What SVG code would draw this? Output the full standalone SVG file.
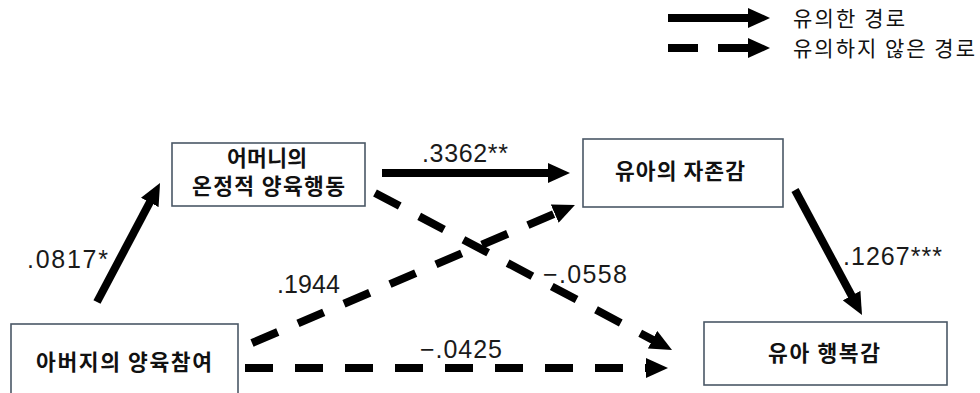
<svg xmlns="http://www.w3.org/2000/svg" width="980" height="393" viewBox="0 0 980 393">
<defs>
<marker id="ah" viewBox="0 0 22 20" refX="4" refY="10" markerWidth="22" markerHeight="20" markerUnits="userSpaceOnUse" orient="auto">
<path d="M0,0 L22,10 L0,20 z" fill="#000"/>
</marker>
<style>
.box{fill:#fff;stroke:#4a5866;stroke-width:1.6}
.nt{font-family:"Noto Sans CJK KR","Noto Sans CJK SC",sans-serif;font-size:21.5px;font-weight:bold;fill:#111}
.lg{font-family:"Noto Sans CJK KR","Noto Sans CJK SC",sans-serif;font-size:21px;fill:#111}
.lb{font-family:"Liberation Sans",Arial,sans-serif;font-size:25px;fill:#1a1a1a}
.sol{stroke:#000;stroke-width:8;fill:none;marker-end:url(#ah)}
.dsh{stroke:#000;stroke-width:8;fill:none;stroke-dasharray:28 22;marker-end:url(#ah)}
</style>
</defs>
<rect width="980" height="393" fill="#fff"/>
<g id="legend">
<line x1="668" y1="18" x2="752" y2="18" class="sol"/>
<line x1="668" y1="48" x2="752" y2="48" class="sol" style="stroke-dasharray:30 20 40"/>
<text x="793" y="26" class="lg" textLength="112" lengthAdjust="spacing">유의한 경로</text>
<text x="793" y="56" class="lg" textLength="182" lengthAdjust="spacing">유의하지 않은 경로</text>
</g>
<g id="connectors">
<line x1="97" y1="302" x2="151.6" y2="198.9" class="sol"/>
<line x1="382" y1="173" x2="552" y2="173" class="sol"/>
<line x1="795" y1="190" x2="853.5" y2="299.1" class="sol"/>
<line x1="375" y1="193" x2="656.1" y2="341.6" class="dsh"/>
<line x1="252" y1="343" x2="558.4" y2="212.1" class="dsh"/>
<line x1="245" y1="368" x2="650" y2="368" class="dsh"/>
<text x="27" y="268" class="lb" textLength="81" lengthAdjust="spacing">.0817*</text>
<text x="422" y="162" class="lb" textLength="86" lengthAdjust="spacing">.3362**</text>
<text x="843" y="265" class="lb" textLength="99" lengthAdjust="spacing">.1267***</text>
<text x="277" y="293" class="lb" textLength="63" lengthAdjust="spacing">.1944</text>
<text x="543" y="283" class="lb" textLength="84" lengthAdjust="spacing">−.0558</text>
<text x="420" y="358" class="lb" textLength="82" lengthAdjust="spacing">−.0425</text>
</g>
<g id="node-mother">
<rect x="172" y="143" width="193" height="63" class="box"/>
<text x="227" y="166" class="nt" textLength="80" lengthAdjust="spacing">어머니의</text>
<text x="192" y="194" class="nt" textLength="153" lengthAdjust="spacing">온정적 양육행동</text>
</g>
<g id="node-selfesteem">
<rect x="583" y="139" width="200" height="68" class="box"/>
<text x="615" y="179" class="nt" textLength="130" lengthAdjust="spacing">유아의 자존감</text>
</g>
<g id="node-father">
<rect x="11" y="324" width="227" height="80" class="box"/>
<text x="36" y="370" class="nt" textLength="176" lengthAdjust="spacing">아버지의 양육참여</text>
</g>
<g id="node-happiness">
<rect x="704" y="322" width="243" height="63" class="box"/>
<text x="768" y="361" class="nt" textLength="112" lengthAdjust="spacing">유아 행복감</text>
</g>
</svg>
